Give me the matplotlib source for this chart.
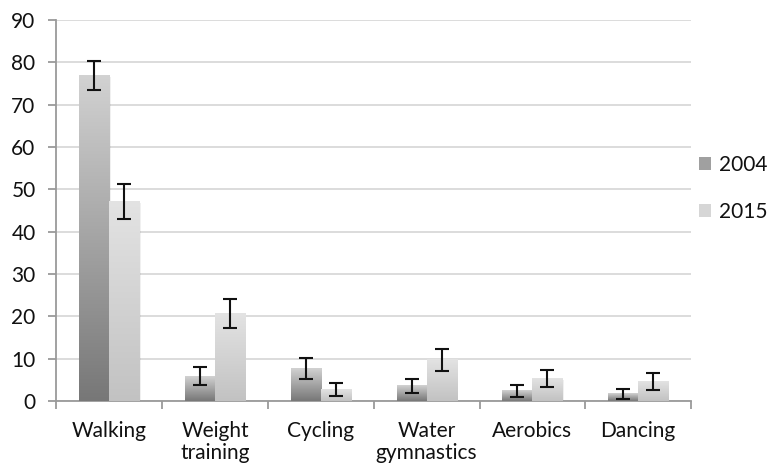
import numpy as np
import matplotlib
matplotlib.use("Agg")
import matplotlib.pyplot as plt
from matplotlib.colors import LinearSegmentedColormap
from matplotlib.patches import Patch

categories = ["Walking", "Weight\ntraining", "Cycling", "Water\ngymnastics", "Aerobics", "Dancing"]
series_names = ["2004", "2015"]
values_2004 = [77.0, 5.9, 7.7, 3.6, 2.4, 1.7]
errors_2004 = [3.4, 2.1, 2.4, 1.7, 1.45, 1.25]
values_2015 = [47.1, 20.7, 2.8, 9.7, 5.4, 4.7]
errors_2015 = [4.2, 3.5, 1.5, 2.5, 2.0, 2.0]
yticks = [0, 10, 20, 30, 40, 50, 60, 70, 80, 90]

plt.rcParams['font.family'] = ['Lato', 'DejaVu Sans']

fig = plt.figure(figsize=(7.73, 4.68), dpi=100)
ax = fig.add_axes([0.073, 0.143, 0.821, 0.814])

cmap04 = LinearSegmentedColormap.from_list("g04", ["#777777", "#d2d2d2"])
cmap15 = LinearSegmentedColormap.from_list("g15", ["#c2c2c2", "#e3e3e3"])

x = np.arange(len(categories))
w = 0.284
grad = np.linspace(0, 1, 256).reshape(-1, 1)

for vals, errs, offs, cm in [(values_2004, errors_2004, -w / 2, cmap04),
                             (values_2015, errors_2015, w / 2, cmap15)]:
    for xi, v, e in zip(x, vals, errs):
        x0 = xi + offs - w / 2
        ax.add_patch(plt.Rectangle((x0 + 0.012, -0.4), w, v, facecolor="#000000",
                                   alpha=0.06, edgecolor="none", zorder=2))
        ax.imshow(grad, extent=[x0, x0 + w, 0, v], origin="lower", aspect="auto",
                  cmap=cm, zorder=3, interpolation="bilinear")
    ax.errorbar(x + offs, vals, yerr=errs, fmt="none", ecolor="#111111",
                elinewidth=1.5, capsize=5, capthick=1.5, zorder=5)

ax.set_xlim(-0.5, len(categories) - 0.5)
ax.set_ylim(0, 90)
ax.set_yticks(yticks)
ax.set_yticklabels([str(t) for t in yticks])
ax.yaxis.grid(True, color="#d9d9d9", linewidth=1.3, zorder=0)
ax.set_axisbelow(True)

ax.set_xticks(x)
ax.set_xticklabels(categories, fontsize=15, color="#111111", linespacing=1.15)
ax.set_xticks(np.arange(len(categories) + 1) - 0.5, minor=True)
ax.tick_params(axis="x", which="major", length=0, pad=14)
ax.tick_params(axis="x", which="minor", length=6, color="#9a9a9a", width=1.3, direction="out")
ax.tick_params(axis="y", length=6, color="#9a9a9a", width=1.3, labelsize=15,
               labelcolor="#111111", pad=9)

for s in ["top", "right"]:
    ax.spines[s].set_visible(False)
for s in ["left", "bottom"]:
    ax.spines[s].set_color("#9a9a9a")
    ax.spines[s].set_linewidth(1.3)

handles = [Patch(facecolor="#a0a0a0", edgecolor="none"),
           Patch(facecolor="#d6d6d6", edgecolor="none")]
leg = fig.legend(handles, series_names, loc="center left", bbox_to_anchor=(0.904, 0.597),
                 frameon=False, fontsize=15, handlelength=0.6, handleheight=0.6,
                 handletextpad=0.35, labelspacing=1.3, borderaxespad=0, borderpad=0)
for t in leg.get_texts():
    t.set_color("#111111")

fig.savefig("out.png", dpi=100)
